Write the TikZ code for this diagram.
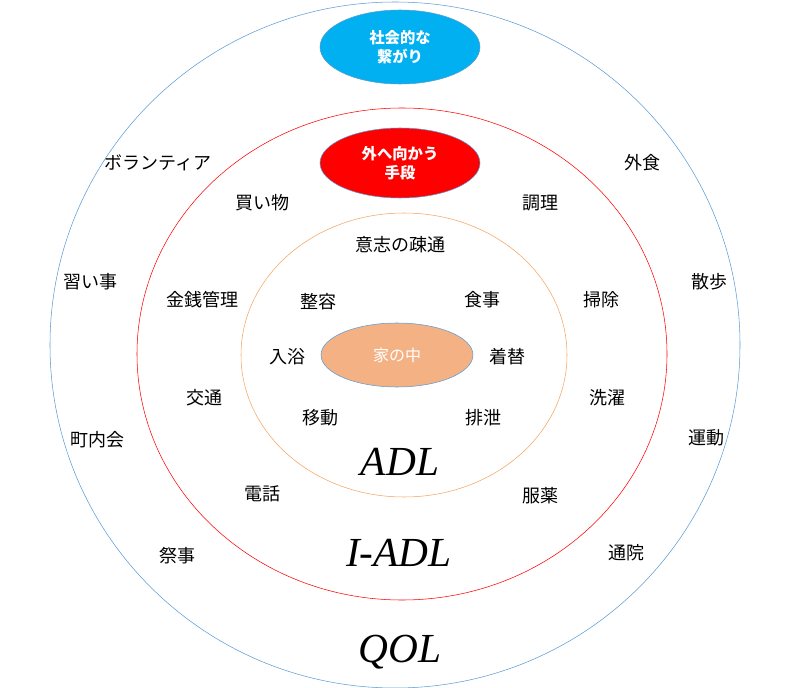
\documentclass[tikz,border=0pt]{standalone}
\usepackage{fontspec}
\setmainfont{Liberation Serif}
\newfontfamily\cjk{Noto Sans CJK JP}
\usetikzlibrary{shapes.geometric}
\begin{document}
\begin{tikzpicture}[x=0.75pt,y=-0.75pt]
\tikzset{lbl/.style={font=\cjk\fontsize{13.5}{15}\selectfont},
 big/.style={font=\itshape\fontsize{31}{33}\selectfont},
 wt/.style={font=\cjk\bfseries\fontsize{11.5}{14}\selectfont,text=white,align=center}}
\definecolor{bl}{HTML}{5B9BD5}\definecolor{orl}{HTML}{F4B183}\definecolor{orline}{HTML}{F4A460}\definecolor{sky}{HTML}{00B0F0}
\useasboundingbox (0,0) rectangle (800,688);
\draw[bl] (395,345) ellipse [x radius=345,y radius=343];
\draw[red] (402,354) ellipse [x radius=265,y radius=246];
\draw[orline] (404,355) ellipse [x radius=163,y radius=142];
\fill[orl,draw=bl] (397,355) ellipse [x radius=76,y radius=32];
\node[wt,font=\cjk\fontsize{12}{14}\selectfont] (home) at (397,355) {家の中};
\fill[sky,draw=bl] (400,47) ellipse [x radius=80,y radius=37];
\node[wt] (soc) at (400,47) {社会的な\\繋がり};
\fill[red,draw=bl] (400,163) ellipse [x radius=80,y radius=35];
\node[wt] (out) at (400,163) {外へ向かう\\手段};
\foreach \n/\x/\y/\t in {a/158/163/ボランティア,b/642/163/外食,c/90/282/習い事,d/709/282/散歩,e/97/440/町内会,f/706/438/運動,g/177/556/祭事,h/626/553/通院,
 i/262/203/買い物,j/540/203/調理,k/202/300/金銭管理,l/601/300/掃除,m/204/398/交通,n/607/398/洗濯,o/262/494/電話,p/540/496/服薬,
 q/400/245/意志の疎通,r/318/302/整容,s/482/300/食事,t/287/357/入浴,u/507/357/着替,v/320/418/移動,w/483/418/排泄}
 \node[lbl] (\n) at (\x,\y) {\t};
\node[big] (qol) at (400,652) {QOL};
\node[big] (iadl) at (399,553) {I-ADL};
\node[big] (adl) at (400,462) {ADL};
\end{tikzpicture}
\end{document}
